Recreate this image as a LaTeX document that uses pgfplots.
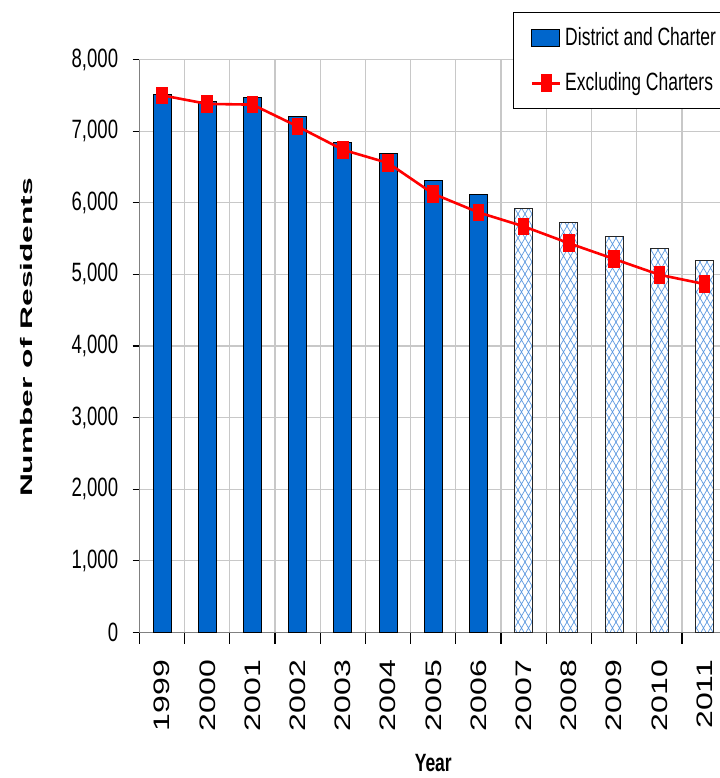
\documentclass[border=0pt]{standalone}
\usepackage{fontspec}
\setmainfont{Liberation Sans}[FakeStretch=0.7]
\newfontfamily\plainfont{Liberation Sans}
\usepackage{graphicx}
\usepackage{pgfplots}
\pgfplotsset{compat=1.18}
\usetikzlibrary{patterns}
\definecolor{barblue}{RGB}{0,102,204}
\definecolor{hatchblue}{RGB}{95,155,225}
\definecolor{gridgray}{RGB}{200,200,200}
\definecolor{axisgray}{RGB}{128,128,128}
\pgfdeclarepatternformonly{diamondhatch}{\pgfqpoint{-1pt}{-1pt}}{\pgfqpoint{4.5pt}{7pt}}{\pgfqpoint{3.5pt}{6pt}}{%
  \pgfsetlinewidth{0.35pt}%
  \pgfpathmoveto{\pgfqpoint{0pt}{0pt}}\pgfpathlineto{\pgfqpoint{3.5pt}{6pt}}%
  \pgfpathmoveto{\pgfqpoint{0pt}{6pt}}\pgfpathlineto{\pgfqpoint{3.5pt}{0pt}}%
  \pgfusepath{stroke}}
\begin{document}
\begin{tikzpicture}
\begin{axis}[
  name=ax, at={(0,0)}, anchor=south west,
  scale only axis, width=293.8pt, height=286.5pt,
  xmin=1998.5, xmax=2011.5, ymin=0, ymax=8000,
  axis x line*=bottom, axis y line*=left,
  axis line style={axisgray, line width=0.8pt},
  tick align=outside,
  major tick length=3.5pt, minor tick length=5.5pt,
  ytick={0,1000,...,8000},
  ytick style={black, line width=0.6pt},
  xtick={1999,2000,2001,2002,2003,2004,2005,2006,2007,2008,2009,2010,2011},
  every major x tick/.append style={draw=none},
  minor xtick={1998.5,1999.5,2000.5,2001.5,2002.5,2003.5,2004.5,2005.5,2006.5,2007.5,2008.5,2009.5,2010.5,2011.5},
  every minor x tick/.append style={black, line width=0.6pt, draw=black},
  ymajorgrids, xminorgrids,
  major grid style={gridgray, line width=0.6pt},
  minor grid style={gridgray, line width=0.6pt},
  /pgf/number format/assume math mode=true,
  /pgf/number format/1000 sep={,},
  yticklabel style={font=\fontsize{13.25}{15}\selectfont, anchor=east, inner sep=0pt, xshift=-7pt},
  xticklabel={\scalebox{1}[0.7]{\plainfont\fontsize{16}{18}\selectfont\pgfmathprintnumber[1000 sep={},fixed,precision=0]{\tick}}},
  xticklabel style={rotate=90, anchor=east, inner sep=0pt, xshift=-10pt},
  ylabel={\scalebox{1.22}[0.645]{\plainfont\bfseries\fontsize{13}{15}\selectfont Number of Residents}},
  ylabel style={at={(axis description cs:-0.1925,0.515)}, anchor=center},
  xlabel={\bfseries\fontsize{12.5}{14}\selectfont Year},
  xlabel style={at={(axis description cs:0.5,0)}, anchor=base, yshift=-69.5pt},
  legend style={at={(axis description cs:0.6357,1.0829)}, anchor=north west, draw=black, line width=0.6pt, fill=white,
    font=\fontsize{12.5}{14}\selectfont, inner xsep=8.5pt, inner ysep=5.5pt, row sep=8pt, nodes={inner sep=2pt}},
  legend cell align=left,
]
\addplot[ybar, bar width=9pt, bar shift=0pt, fill=barblue, draw=black, line width=0.5pt,
  legend image code/.code={\draw[fill=barblue, draw=black, line width=0.5pt] (0pt,-4.25pt) rectangle (14pt,4.25pt);}]
  coordinates {(1999,7510) (2000,7420) (2001,7470) (2002,7200) (2003,6840) (2004,6690) (2005,6310) (2006,6110)};
\addlegendentry{District and Charter}
\addplot[ybar, bar width=9pt, bar shift=0pt, fill=white, draw=black!85, line width=0.5pt,
  postaction={pattern=diamondhatch, pattern color=hatchblue}, forget plot]
  coordinates {(2007,5915) (2008,5720) (2009,5530) (2010,5360) (2011,5200)};
\addplot[red, line width=1.3pt, mark=square*, mark size=3.75pt, mark options={xscale=0.6, solid, fill=red, draw=red},
  legend image code/.code={\draw[red, line width=1.3pt] (0pt,0pt) -- (14pt,0pt);
    \fill[red] (5pt,-3.75pt) rectangle (9.5pt,3.75pt);}]
  coordinates {(1999,7500) (2000,7380) (2001,7370) (2002,7065) (2003,6740) (2004,6555) (2005,6125) (2006,5865) (2007,5670) (2008,5435) (2009,5215) (2010,4995) (2011,4865)};
\addlegendentry{Excluding Charters}
\end{axis}
\pgfresetboundingbox
\path[use as bounding box] (-69.75pt,-72.75pt) rectangle (289.75pt,316.25pt);
\end{tikzpicture}
\end{document}
